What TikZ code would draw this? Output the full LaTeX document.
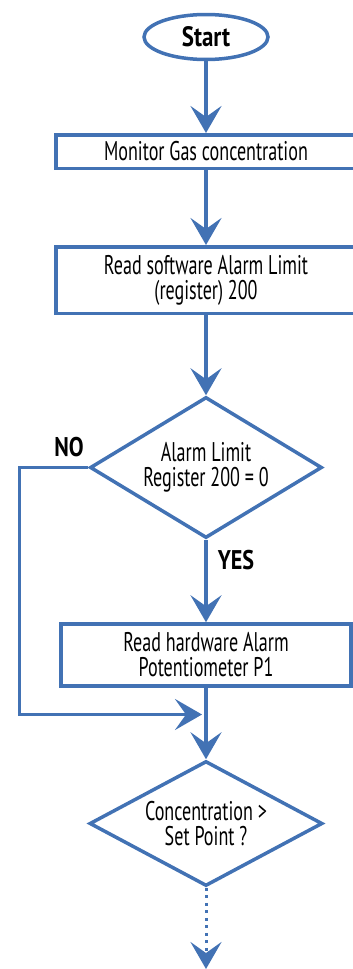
\documentclass[tikz,border=0pt]{standalone}
\usepackage{fontspec}
\setmainfont{PT Sans}[FakeStretch=0.67]
\newfontfamily\labelfont{PT Sans}[FakeStretch=0.82]
\usepackage{tikz}
\usetikzlibrary{positioning,calc,shapes.geometric,arrows.meta}
\definecolor{FlowBlue}{RGB}{66,114,180}
\tikzset{
    flowline/.style={draw=FlowBlue, line width=3.5pt},
    flowarrow/.style={flowline, -{Stealth[length=27pt, width=31pt, inset=11pt]}}
}

\begin{document}
\begin{tikzpicture}[x=1pt, y=-1pt,
					% Style cho nút bắt đầu
					startnode/.style={
						ellipse,
						flowline,
						minimum width=124pt,
						minimum height=45pt,
						inner sep=0pt,
						font=\labelfont\bfseries\fontsize{28}{30}\selectfont
					},
					% Style cho khối xử lý
					procnode/.style={
						rectangle,
						flowline,
						minimum width=300pt,
						inner sep=0pt,
						align=center,
						font=\fontsize{27}{25}\selectfont
					},
					% Style cho khối quyết định
					decnode/.style={
						diamond,
						flowline,
						aspect=1.65,
						inner sep=0pt,
						align=center,
						font=\fontsize{27}{25}\selectfont
					},
					answer/.style={inner sep=0pt, font=\labelfont\bfseries\fontsize{27}{29}\selectfont}
				]
					\useasboundingbox (0,0) rectangle (353,969);
					
					% --- CÁC KHỐI ---
					\node[startnode] (start) at (206,37) {Start};
					\node[procnode, minimum height=33.5pt] (monitor) at (206,151.5) {Monitor Gas concentration};
					\node[procnode, minimum height=66.5pt] (readsw) at (206,280) {Read software Alarm Limit\\(register) 200};
					\node[decnode, minimum width=232pt, minimum height=141pt] (alarmlim) at (206,467.5) {Alarm Limit\\Register 200 = 0};
					\node[procnode, minimum width=290pt, minimum height=62pt] (readhw) at (206,655) {Read hardware Alarm\\Potentiometer P1};
					\node[decnode, minimum width=233pt, minimum height=125pt] (setpt) at (206,823.5) {Concentration >\\Set Point ?};
					\coordinate (join) at (206,714.5);
					\coordinate (next) at (206,969);
					
					% --- NHÃN ---
					\node[answer] (no) at (69,447) {NO};
					\node[answer] (yes) at (236,560) {YES};
					
					% --- MŨI TÊN ---
					\draw[flowarrow] (start.south) -- (monitor.north);
					\draw[flowarrow] (monitor.south) -- (readsw.north);
					\draw[flowarrow] (readsw.south) -- (alarmlim.north);
					\draw[flowarrow] (alarmlim.south) -- (readhw.north);
					\draw[flowarrow] (readhw.south) -- (setpt.north);
					\draw[flowarrow, shorten >=4pt] (alarmlim.west) -- ++(-69,0) |- (join);
					\draw[flowarrow, line width=3pt, dash pattern=on 3pt off 4.5pt] (setpt.south) -- (next);
					
				\end{tikzpicture}
\end{document}
